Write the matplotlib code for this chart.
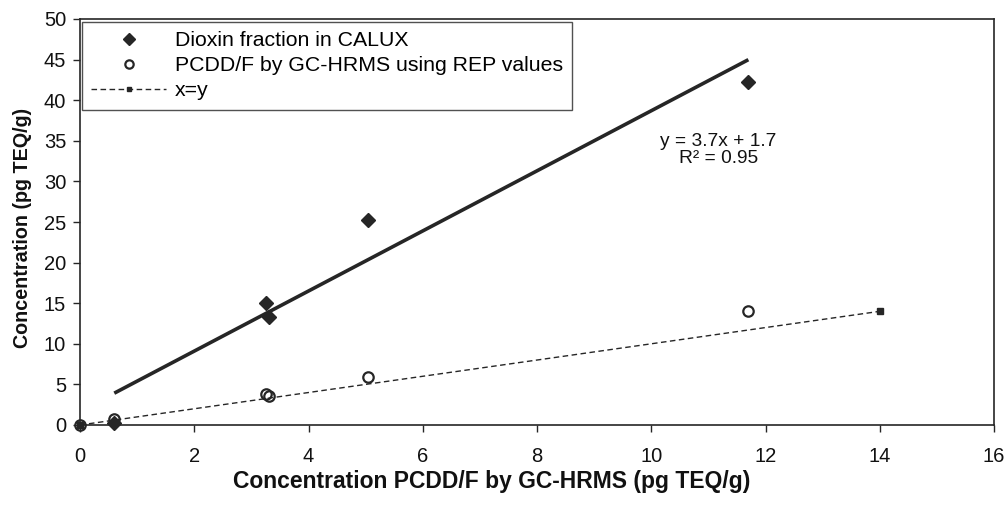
import matplotlib.pyplot as plt
import numpy as np

plt.rcParams['font.family'] = ['Liberation Sans', 'DejaVu Sans']

# --------------------
# data
calux_x = [0.6, 3.25, 3.3, 5.05, 11.7]
calux_y = [0.3, 15.0, 13.3, 25.3, 42.2]

hrms_x = [0.0, 0.6, 3.25, 3.3, 5.05, 11.7]
hrms_y = [0.0, 0.75, 3.8, 3.6, 5.9, 14.1]

xy_x = [0, 14]
xy_y = [0, 14]

fit_slope = 3.7
fit_icpt = 1.7
fit_text = "y = 3.7x + 1.7\nR² = 0.95"

x_ticks = [0, 2, 4, 6, 8, 10, 12, 14, 16]
y_ticks = [0, 5, 10, 15, 20, 25, 30, 35, 40, 45, 50]

ink = "#262626"

# --------------------
fig = plt.figure(figsize=(10.06, 5.05), dpi=100)
ax = fig.add_axes([80 / 1006, 80 / 505, 914 / 1006, 406 / 505])

ax.plot(xy_x, xy_y, linestyle=(0, (4, 2.5)), color=ink, linewidth=1.0,
        marker="s", markersize=4, markerfacecolor=ink, markeredgecolor=ink,
        label="x=y", zorder=2, clip_on=False)

# trend line y = 3.7x + 1.7 over the CALUX x range
fx = np.array([min(calux_x), max(calux_x)])
ax.plot(fx, fit_slope * fx + fit_icpt, color=ink, linewidth=2.6,
        solid_capstyle="butt", zorder=3)

ax.plot(calux_x, calux_y, linestyle="none", marker="D", markersize=7.5,
        color=ink, label="Dioxin fraction in CALUX", zorder=4, clip_on=False)
ax.plot(hrms_x, hrms_y, linestyle="none", marker="o", markersize=7.5,
        markerfacecolor="none", markeredgecolor=ink, markeredgewidth=1.6,
        label="PCDD/F by GC-HRMS using REP values", zorder=4, clip_on=False)

ax.text(11.17, 33.9, fit_text, ha="center", va="center", fontsize=13.8,
        linespacing=1.0, color="#111111")

ax.set_xlim(0, 16)
ax.set_ylim(0, 50)
ax.set_xticks(x_ticks)
ax.set_yticks(y_ticks)
ax.tick_params(axis="both", direction="out", length=5, width=1.0,
               colors=ink, labelsize=14.5, labelcolor="#111111")
ax.tick_params(axis="x", pad=11)
ax.tick_params(axis="y", pad=5)
for s in ax.spines.values():
    s.set_linewidth(1.2)
    s.set_color(ink)

ax.set_xlabel("Concentration PCDD/F by GC-HRMS (pg TEQ/g)", fontsize=16.5,
              fontweight="bold", color="#111111")
ax.xaxis.set_label_coords(0.45, -0.112)
ax.set_ylabel("Concentration (pg TEQ/g)", fontsize=14.2,
              fontweight="bold", color="#111111")
ax.yaxis.set_label_coords(-0.052, 0.485)

# legend order: CALUX, GC-HRMS, x=y
handles, labels = ax.get_legend_handles_labels()
order = [1, 2, 0]
leg = ax.legend([handles[i] for i in order], [labels[i] for i in order],
                loc="upper left", bbox_to_anchor=(0.002, 0.993),
                borderaxespad=0, fontsize=15.3, frameon=True, fancybox=False,
                edgecolor=ink, handlelength=3.5, handletextpad=0.42,
                labelspacing=0.28, borderpad=0.45, markerscale=0.8)
leg.get_frame().set_linewidth(1.0)

plt.savefig("out.png", dpi=100)
